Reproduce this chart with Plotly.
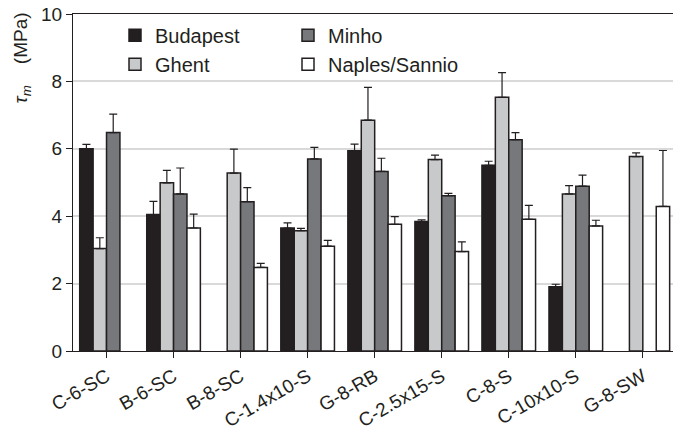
import plotly.graph_objects as go

categories = ["C-6-SC", "B-6-SC", "B-8-SC", "C-1.4x10-S", "G-8-RB",
              "C-2.5x15-S", "C-8-S", "C-10x10-S", "G-8-SW"]

budapest = [6.00, 4.05, None, 3.65, 5.94, 3.84, 5.51, 1.91, None]
budapest_err = [0.13, 0.39, 0, 0.15, 0.20, 0.05, 0.12, 0.07, 0]

ghent = [3.04, 4.99, 5.28, 3.57, 6.85, 5.68, 7.53, 4.66, 5.77]
ghent_err = [0.32, 0.37, 0.71, 0.07, 0.97, 0.13, 0.73, 0.25, 0.11]

minho = [6.48, 4.66, 4.43, 5.70, 5.33, 4.61, 6.27, 4.89, None]
minho_err = [0.55, 0.77, 0.42, 0.34, 0.39, 0.07, 0.21, 0.33, 0]

naples = [None, 3.65, 2.48, 3.11, 3.76, 2.95, 3.91, 3.71, 4.29]
naples_err = [0, 0.41, 0.12, 0.17, 0.23, 0.29, 0.41, 0.17, 1.66]

series = [
    ("Budapest", budapest, budapest_err, "#231f20", "col1"),
    ("Ghent", ghent, ghent_err, "#c8c9cb", "col1"),
    ("Minho", minho, minho_err, "#77787b", "col2"),
    ("Naples/Sannio", naples, naples_err, "#ffffff", "col2"),
]

FONT = "Liberation Sans, Arial, sans-serif"
DARK = "#231f20"

fig = go.Figure()
for name, vals, errs, color, group in series:
    fig.add_trace(go.Bar(
        x=categories, y=vals, name=name, legendgroup=group,
        marker=dict(color=color, line=dict(color=DARK, width=1.5)),
        error_y=dict(type="data", array=errs, symmetric=False,
                     arrayminus=[0] * len(errs), color=DARK,
                     thickness=1.2, width=4),
    ))

fig.update_layout(
    width=673, height=432,
    margin=dict(l=73, r=0, t=14, b=81, autoexpand=False),
    paper_bgcolor="white", plot_bgcolor="white",
    barmode="group", bargap=0.2, bargroupgap=0,
    font=dict(family=FONT, size=19, color=DARK),
    showlegend=True,
    legend=dict(orientation="h", x=0.07, xanchor="left", y=0.995, yanchor="top",
                entrywidth=128, entrywidthmode="pixels",
                traceorder="grouped", groupclick="toggleitem", tracegroupgap=0,
                font=dict(size=20, color=DARK), bgcolor="rgba(0,0,0,0)"),
    xaxis=dict(range=[-0.5, 8.45], showline=True, linecolor=DARK, linewidth=1.2,
               mirror=True, ticks="outside", ticklen=6, tickcolor=DARK,
               tickangle=-30, tickfont=dict(size=19), showgrid=False,
               automargin=False),
    yaxis=dict(range=[0, 10], dtick=2, showline=True, linecolor=DARK, linewidth=1.2,
               ticks="outside", ticklen=6, tickcolor=DARK,
               tickfont=dict(size=19), showgrid=True, gridcolor="#d9d9d9",
               gridwidth=1.5, zeroline=False, automargin=False),
)

fig.add_annotation(
    text="<i>τ<sub>m</sub></i>&nbsp;&nbsp;&nbsp;&nbsp;(MPa)", textangle=-90,
    xref="paper", yref="paper", x=-0.085, y=1.012,
    xanchor="center", yanchor="top", showarrow=False,
    font=dict(size=19, color=DARK),
)

fig.write_html("out.html", config={"displayModeBar": False},
               post_script="document.body.style.margin='0';")
